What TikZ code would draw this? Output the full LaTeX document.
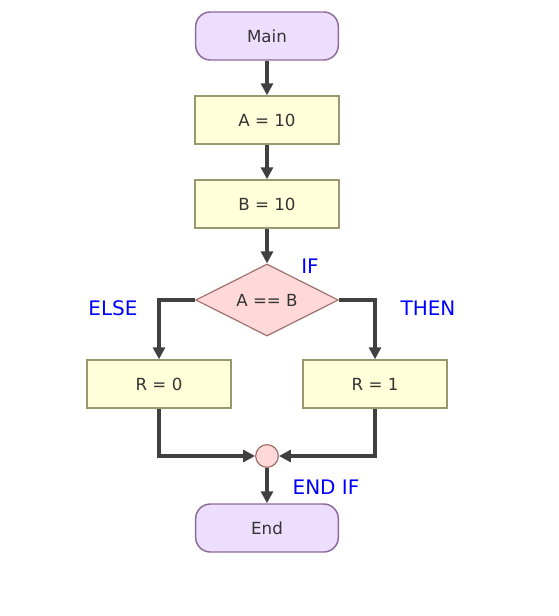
\documentclass[tikz,border=0pt]{standalone}
\usepackage{fontspec}
\setmainfont{DejaVu Sans}
\usetikzlibrary{arrows.meta, shapes.geometric}
\definecolor{termfill}{HTML}{EEDEFE}
\definecolor{termstroke}{HTML}{8C6A9C}
\definecolor{stepfill}{HTML}{FFFFD9}
\definecolor{stepstroke}{HTML}{999970}
\definecolor{condfill}{HTML}{FFD9D9}
\definecolor{condstroke}{HTML}{A07070}
\definecolor{flowline}{HTML}{404040}
\definecolor{bodytext}{HTML}{333333}
\definecolor{branchlabel}{HTML}{0000FF}

\begin{document}
\begin{tikzpicture}[
    x=0.75pt, y=-0.75pt,
    terminal/.style={
        rectangle,
        rounded corners=11pt,
        minimum width=107pt,
        minimum height=36pt,
        draw=termstroke,
        line width=1.1pt,
        fill=termfill,
        text=bodytext,
        font=\fontsize{12.5}{15}\selectfont,
    },
    stepbox/.style={
        rectangle,
        minimum width=108pt,
        minimum height=36pt,
        draw=stepstroke,
        line width=1.1pt,
        fill=stepfill,
        text=bodytext,
        font=\fontsize{12.5}{15}\selectfont,
    },
    decision/.style={
        diamond,
        aspect=2,
        inner sep=0pt,
        minimum width=107pt,
        minimum height=54pt,
        draw=condstroke,
        line width=0.9pt,
        fill=condfill,
        text=bodytext,
        font=\fontsize{12.5}{15}\selectfont,
    },
    merge/.style={
        circle,
        minimum size=17pt,
        inner sep=0pt,
        draw=condstroke,
        line width=0.9pt,
        fill=condfill,
    },
    flow/.style={
        flowline,
        line width=2.3pt,
        -{Triangle[length=9pt, width=9pt]},
    },
    branch/.style={
        text=branchlabel,
        font=\fontsize{15}{18}\selectfont,
    },
]

% Bounding box
\useasboundingbox (0,0) rectangle (558,616);

% Nodes
\node[terminal] (main) at (267,36) {Main};
\node[stepbox] (seta) at (267,120) {A = 10};
\node[stepbox] (setb) at (267,204) {B = 10};
\node[decision] (test) at (267,300) {A == B};
\node[stepbox] (rzero) at (159,384) {R = 0};
\node[stepbox] (rone) at (375,384) {R = 1};
\node[merge] (join) at (267,456) {};
\node[terminal] (finish) at (267,528) {End};

% Labels
\node[branch] (iflbl) at (310,266) {IF};
\node[branch] (elselbl) at (113,308) {ELSE};
\node[branch] (thenlbl) at (428,308) {THEN};
\node[branch] (endiflbl) at (326,487) {END IF};

% Straight arrows
\draw[flow] (main.south) -- (seta.north);
\draw[flow] (seta.south) -- (setb.north);
\draw[flow] (setb.south) -- (test.north);
\draw[flow] (join.south) -- (finish.north);

% Branches
\draw[flow] (test.west) -| (rzero.north);
\draw[flow] (test.east) -| (rone.north);
\draw[flow] (rzero.south) |- (join.west);
\draw[flow] (rone.south) |- (join.east);

\end{tikzpicture}
\end{document}
